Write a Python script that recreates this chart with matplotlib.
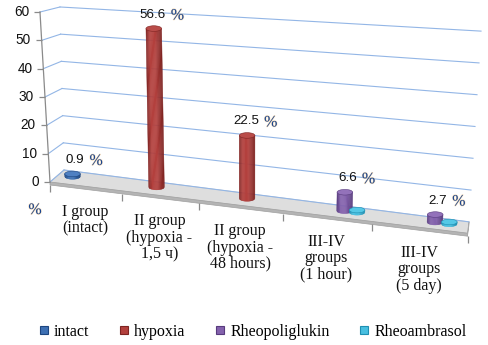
import numpy as np
import matplotlib
matplotlib.use("Agg")
import matplotlib.pyplot as plt
from matplotlib.transforms import Transform, offset_copy
from matplotlib.patches import Polygon, Ellipse
from matplotlib.lines import Line2D
from matplotlib.colors import LinearSegmentedColormap
from matplotlib.markers import TICKLEFT, TICKDOWN
import matplotlib.patheffects as pe

# ---------------- data ----------------
categories = ["I group\n(intact)",
              "II group\n(hypoxia -\n1,5 ч)",
              "II group\n(hypoxia -\n48 hours)",
              "III-IV\ngroups\n(1 hour)",
              "III-IV\ngroups\n(5 day)"]
series_names = ["intact", "hypoxia", "Rheopoliglukin", "Rheoambrasol"]
intact = [0.9, None, None, None, None]
hypoxia = [None, 56.6, 22.5, None, None]
rheopoliglukin = [None, None, None, 6.6, 2.7]
rheoambrasol = [None, None, None, 0.8, 0.7]
series_values = [intact, hypoxia, rheopoliglukin, rheoambrasol]
series_labelled = [True, True, True, False]
y_ticks = [0, 10, 20, 30, 40, 50, 60]

# ---------------- layout / styles ----------------
# position of each bar inside its category (fraction of a category width)
bar_slot = [[0.21, 0.21, 0.21, 0.21, 0.21],
            [0.31, 0.31, 0.44, 0.44, 0.44],
            [0.60, 0.60, 0.60, 0.60, 0.63],
            [0.75, 0.75, 0.75, 0.745, 0.79]]
body_light = ["#3d70b3", "#b3403d", "#8462ad", "#48bfe0"]
body_dark = ["#1d4680", "#7e2422", "#583b7e", "#1f8fb2"]
top_col = ["#4f80c2", "#b94c49", "#9372ba", "#55c8e6"]
grid_col = "#93b6e6"
axis_col = "#8a8a8a"


class PlaneT(Transform):
    """Perspective-like mapping of (u, v) on one plane of the 3-D scene to pixels."""
    input_dims = 2
    output_dims = 2
    is_separable = False

    def __init__(self, xq, yb, sc, tl):
        super().__init__()
        self.xq, self.yb, self.sc, self.tl = xq, yb, sc, tl

    def transform_non_affine(self, values):
        values = np.asarray(values, float).reshape(-1, 2)
        u, v = values[:, 0], values[:, 1]
        a, b, c = self.xq
        x = a + b * u + c * u * u
        y0 = self.yb[0] + self.yb[1] * (x - self.yb[2])
        s = self.sc[0] + self.sc[1] * (x - self.sc[2])
        t = self.tl[0] + self.tl[1] * (x - self.tl[2])
        return np.column_stack([x + t * v, y0 - s * v])


BACK = PlaneT((64, 79, 0.4), (170, 0.128, 64), (2.717, 0.00114, 64), (-0.067, 0.00066, 64))
LEFT = PlaneT((50, 14, 0), (182, -0.857, 50), (2.833, -0.00829, 50), (-0.167, 0.00714, 50))
FRONT = PlaneT((50, 68.5, 3.0), (182, 0.1226, 50), (2.833, 0, 50), (0, 0, 50))
MID = PlaneT((57, 73.75, 1.7), (174.5, 0.126, 57), (2.8, 0, 57), (0, 0.00055, 245))

W, H = 489, 345
fig = plt.figure(figsize=(W / 100, H / 100), dpi=100)
ax = fig.add_axes([0, 0, 1, 1])
ax.set_xlim(0, W)
ax.set_ylim(H, 0)
ax.set_autoscale_on(False)
ax.axis("off")

TB = BACK + ax.transData
TL = LEFT + ax.transData
TF = FRONT + ax.transData
TM = MID + ax.transData

n_cat = len(categories)

# floor
fl = FRONT.transform([[0, 0], [n_cat, 0]])
bk = BACK.transform([[n_cat, 0], [0, 0]])
ax.add_patch(Polygon(np.vstack([fl, bk]), closed=True, fc="#dedede", ec="#c8c8c8", lw=0.6, zorder=1))
thick = 3
face = np.array([fl[0], fl[1], fl[1] + [0, thick], fl[0] + [0, thick]])
ax.add_patch(Polygon(face, closed=True, fc="#b4b4b4", ec="#a0a0a0", lw=0.5, zorder=1))
side = np.array([fl[1], bk[0], bk[0] + [0, thick], fl[1] + [0, thick]])
ax.add_patch(Polygon(side, closed=True, fc="#c4c4c4", ec="#a8a8a8", lw=0.5, zorder=1))

# gridlines on back and left wall
for v in y_ticks:
    ax.plot([0, n_cat], [v, v], transform=TB, color=grid_col, lw=0.8, zorder=2)
    ax.plot([0, 1], [v, v], transform=TL, color=grid_col, lw=0.8, zorder=2)

# value axis
ax.plot([0, 0], [0, y_ticks[-1]], transform=TL, color=axis_col, lw=0.9, zorder=2)
ax.plot(np.zeros(len(y_ticks)), y_ticks, ls="none", marker=TICKLEFT, ms=4,
        mec=axis_col, mew=0.9, transform=TL, zorder=2)
for v in y_ticks:
    ax.text(0, v, str(v), transform=offset_copy(TL, fig, x=-11, y=0, units="dots"),
            ha="right", va="center", fontsize=9.8, family="Liberation Sans", color="#111111")

pct_effects = [pe.Stroke(linewidth=0.9, foreground="#f2b25a", alpha=0.35), pe.Normal()]
pct_style = dict(color="#1a4690", family="Liberation Serif", fontsize=11.5,
                 path_effects=pct_effects)
ax.text(0, 0, "%", transform=offset_copy(TL, fig, x=-15, y=-28, units="dots"),
        ha="center", va="center", **pct_style)

# category ticks and labels
ax.plot(np.arange(n_cat + 1), np.zeros(n_cat + 1), ls="none", marker=TICKDOWN, ms=5,
        mec=axis_col, mew=0.9, transform=offset_copy(TF, fig, x=0, y=-thick, units="dots"), zorder=2)
for i, cat in enumerate(categories):
    ax.text(i + 0.5, 0, cat, transform=offset_copy(TF, fig, x=0, y=-18, units="dots"),
            ha="center", va="top", fontsize=11.5, family="Liberation Serif",
            linespacing=1.02, color="#111111")


# cylinders
def cylinder(u, v, k):
    B = MID.transform([[u, 0]])[0]
    P = MID.transform([[u, v]])[0]
    w, e = 7.8, 2.8
    cmap = LinearSegmentedColormap.from_list(
        "c", [body_dark[k], body_light[k], body_light[k], body_dark[k]], N=64)
    N = 14
    edges = np.linspace(-w, w, N + 1)
    for j in range(N):
        ss = np.linspace(edges[j], edges[j + 1], 4)
        bottom = [(B[0] + s, B[1] + e * np.sqrt(max(0.0, 1 - (s / w) ** 2))) for s in ss]
        top = [(P[0] + s, P[1]) for s in ss[::-1]]
        col = cmap(np.interp((j + 0.5) / N, [0, 0.3, 0.5, 1], [0, 0.4, 0.6, 1]))
        ax.add_patch(Polygon(bottom + top, closed=True, fc=col, ec=col, lw=0.3, zorder=3))
    ax.add_patch(Ellipse(P, 2 * w, 2 * e, fc=top_col[k], ec=body_dark[k], lw=0.4, zorder=3.1))
    return P


for k, vals in enumerate(series_values):
    for i, v in enumerate(vals):
        if v is None:
            continue
        u = i + bar_slot[k][i]
        cylinder(u, v, k)
        if series_labelled[k]:
            ax.text(u, v, f"{v}", transform=offset_copy(TM, fig, x=12, y=14, units="dots"),
                    ha="right", va="center", fontsize=9.6, family="Liberation Sans",
                    color="#111111", zorder=4)
            ax.text(u, v, "%", transform=offset_copy(TM, fig, x=17, y=13, units="dots"),
                    ha="left", va="center", zorder=4, **pct_style)

# legend
handles = [Line2D([], [], ls="none", marker="s", ms=5.8, mfc=body_light[k], mec=body_dark[k], mew=0.8)
           for k in range(len(series_names))]
fig.legend(handles, series_names, loc="center", bbox_to_anchor=(0.517, 0.038), ncol=4,
           frameon=False, handlelength=0.6, handletextpad=0.35, columnspacing=1.85,
           prop={"family": "Liberation Serif", "size": 11.5})

fig.savefig("out.png", dpi=100, facecolor="white")
